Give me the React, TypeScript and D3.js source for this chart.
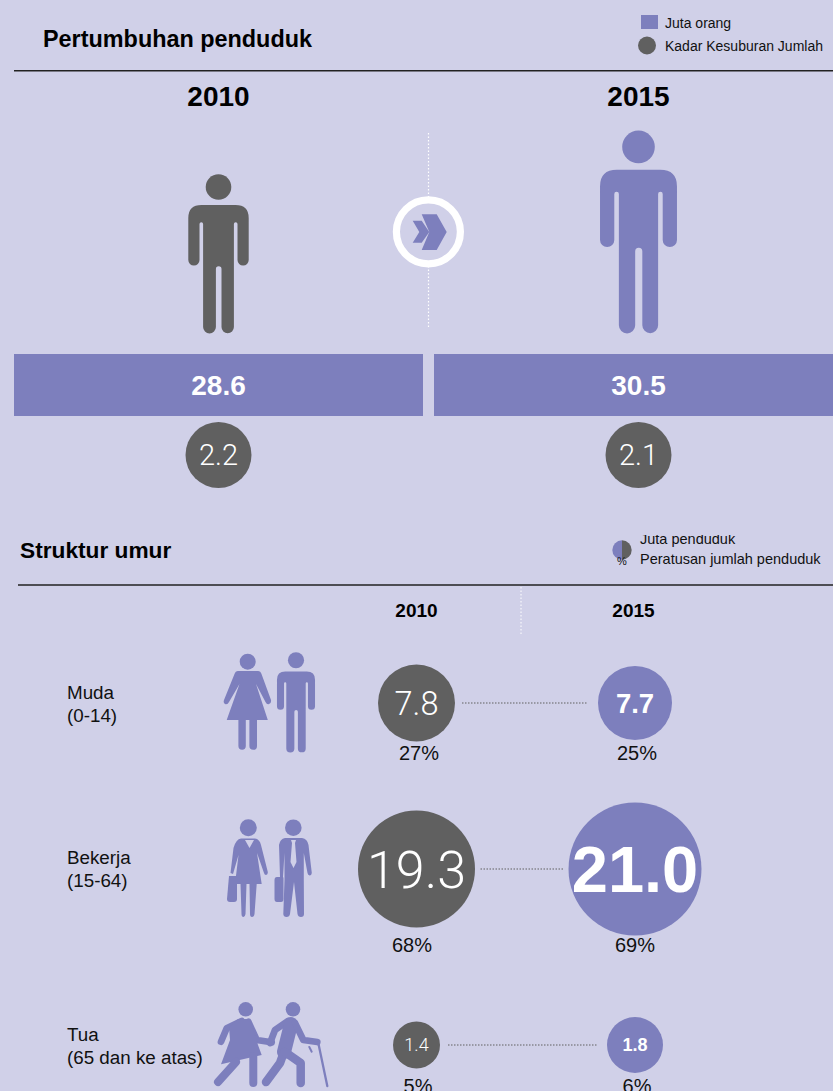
import React from 'react';
import * as d3 from 'd3';

const W = 833;
const H = 1091;
const BG = '#d0d0e8';
const PURPLE = '#7d7fbd';
const GREY = '#606060';
const FONT = '"Liberation Sans", Arial, sans-serif';
const LIGHT = 'Roboto, "Liberation Sans", sans-serif';

const years = ['2010', '2015'];
const population = [28.6, 30.5];
const fertility = [2.2, 2.1];

const ageGroups = ['Muda', 'Bekerja', 'Tua'];
const ageRanges = ['(0-14)', '(15-64)', '(65 dan ke atas)'];
const ageMillions2010 = [7.8, 19.3, 1.4];
const ageMillions2015 = [7.7, 21.0, 1.8];
const agePercent2010 = [27, 68, 5];
const agePercent2015 = [25, 69, 6];

// top panel columns, the second bar runs off the page
const yearBand = d3.scaleBand().domain(years).range([14, 843]).paddingInner(11 / 420).paddingOuter(0);
const figureScale = d3.scaleLinear().domain([28.6, 30.5]).range([1, 1.274]);

// lower panel
const ageX = d3.scaleOrdinal<string, number>().domain(years).range([416.5, 635]);
const ageY = d3.scaleOrdinal<string, number>().domain(ageGroups).range([703, 869, 1045]);
// bubble sizes in the source are not strictly proportional
const ageRadius = d3.scaleLinear().domain([1.4, 1.8, 7.7, 7.8, 19.3, 21]).range([23.5, 28, 37, 38.5, 58.5, 66.5]);
const ageFont = d3.scaleLinear().domain([1.4, 1.8, 7.7, 7.8, 19.3, 21]).range([18, 18, 27.5, 32.5, 52, 65]);

const MAN =
  'M-17 31H17Q30.2 31 30.2 44V86A5.6 5.6 0 0 1 19 86V50A1.8 1.8 0 0 0 15.4 50V153A6.2 6.2 0 0 1 3 153V95A2.6 2.6 0 0 0 -2.6 95V153A6.2 6.2 0 0 1 -15.4 153V50A1.8 1.8 0 0 0 -19 50V86A5.6 5.6 0 0 1 -30.2 86V44Q-30.2 31 -17 31Z';

function Man({ x, y, k, fill }: { x: number; y: number; k: number; fill: string }) {
  return (
    <g transform={`translate(${x},${y}) scale(${k})`} fill={fill}>
      <circle cx={0} cy={13} r={12.8} />
      <path d={MAN} />
    </g>
  );
}

function YoungIcons() {
  return (
    <g fill={PURPLE}>
      <circle cx={247.7} cy={661.7} r={8} />
      <path d="M238 671H258Q260.5 671 261.5 674L271 700Q271.5 703 269 704Q267 705 265.5 702L256 684L267.8 720H257V746A3.7 3.7 0 0 1 249.4 746V720H245.8V746A3.7 3.7 0 0 1 238.4 746V720H226.7L239.5 684L229 702Q227.5 705 225 704Q223 703 224 700L234.5 674Q235.5 671 238 671Z" />
      <Man x={296} y={652} k={0.63} fill={PURPLE} />
    </g>
  );
}

function WorkerIcons() {
  return (
    <g fill={PURPLE}>
      <circle cx={248.3} cy={827.7} r={8.5} />
      <path d="M241 838.5H255Q259.5 839 261 845L267.8 872Q268 874.5 266 875Q264.5 875 264 873L257 853L261.7 884H256.7L254.5 914Q254 917 252 917Q250 917 250 914L249.5 884H246.5L245.5 914Q245 917 243.5 917Q241.5 917 241.5 914L240.5 884H235L238.5 855L233 874L230.5 873L233.5 848Q236 839 241 838.5Z" />
      <path d="M229 876H236Q237 876 237 878V899Q237 902 234 902H230Q227 902 227 899Z" />
      <path d="M245 840H254L249.5 848Z" fill={BG} />

      <circle cx={293.3} cy={827.7} r={8.3} />
      <path d="M285 838H302Q307.5 839 308.5 845L311.8 873Q311.5 875.5 309.5 875.5Q308 875 307.5 873L303.8 853V880L304 914Q304 917 301 917Q298 917 297.5 914L294 882L290 914Q289.5 917 286.5 917Q283.5 917 283.3 914L284.5 880V853L283 877H280L279 845Q280 839 285 838Z" />
      <path d="M277 877H283Q283.5 877 283.5 879V899Q283.5 902 281 902H277Q274.5 902 274.5 899V880Q274.5 877 277 877Z" />
      <path d="M291 840H296L295 843L296.5 862L293.5 868L290.5 862L292 843Z" fill={BG} />
    </g>
  );
}

function ElderlyIcons() {
  return (
    <g fill={PURPLE} stroke={PURPLE} strokeLinecap="round" strokeLinejoin="round">
      <circle cx={245.7} cy={1009.3} r={7.3} stroke="none" />
      <path d="M241.7 1021L226.7 1028.3L221 1041.7" fill="none" strokeWidth={6.7} />
      <path d="M248.3 1021.7L256.7 1040L271.7 1042.3" fill="none" strokeWidth={6.7} />
      <path d="M238 1019H250L258 1045L261.7 1055L221 1064.3L230 1040L229 1027Z" stroke="none" />
      <path d="M236 1062L218 1082" fill="none" strokeWidth={8} />
      <path d="M253.3 1056V1083" fill="none" strokeWidth={8} />

      <circle cx={293} cy={1009.3} r={7.3} stroke="none" />
      <path d="M288 1021L275 1030L270 1043" fill="none" strokeWidth={6.7} />
      <path d="M291 1024L284 1052" fill="none" strokeWidth={14} />
      <path d="M284 1052L280 1063L266 1082" fill="none" strokeWidth={8.5} />
      <path d="M285 1052L300.7 1063V1083" fill="none" strokeWidth={8.5} />
      <path d="M295 1023L303.3 1040L317.3 1042" fill="none" strokeWidth={6.7} />
      <path d="M318.3 1043L327.3 1086" fill="none" strokeWidth={2.3} />
      <path d="M309.3 1047L311.7 1051.7" fill="none" strokeWidth={2} />
    </g>
  );
}

export default function App() {
  return (
    <svg
      width={W}
      height={H}
      viewBox={`0 0 ${W} ${H}`}
      fontFamily={FONT}
      style={{ position: 'absolute', left: 0, top: 0, display: 'block' }}
    >
      <defs>
        <clipPath id="legendClip">
          <rect x={600} y={535} width={233} height={40} />
        </clipPath>
      </defs>
      <rect width={W} height={H} fill={BG} />

      {/* Pertumbuhan penduduk */}
      <text x={43} y={47} fontSize={23.4} fontWeight="bold" fill="#000">Pertumbuhan penduduk</text>
      <rect x={641} y={15} width={17} height={14} fill={PURPLE} />
      <text x={665} y={28} fontSize={14} fill="#111">Juta orang</text>
      <circle cx={647} cy={45.5} r={9} fill={GREY} />
      <text x={665} y={51} fontSize={14} fill="#111">Kadar Kesuburan Jumlah</text>
      <line x1={14} x2={W} y1={70.8} y2={70.8} stroke="#222" strokeWidth={1.5} />

      <line x1={428.5} x2={428.5} y1={133} y2={329} stroke="#fff" strokeWidth={1.2} strokeDasharray="1.5 2" />
      <circle cx={428.4} cy={231.8} r={32} fill={BG} stroke="#fff" strokeWidth={7.2} />
      <path d="M421.7 214.3H436.7L446.7 232L436.7 250H421.7L429.3 232Z" fill={PURPLE} />
      <path d="M412.7 220.7H421.7L429.3 232L421.7 242.7H412.7L419.3 232Z" fill={PURPLE} />

      {years.map((year, i) => {
        const cx = (yearBand(year) as number) + yearBand.bandwidth() / 2;
        const k = figureScale(population[i]);
        return (
          <g key={year}>
            <text x={cx} y={106} fontSize={28} fontWeight="bold" textAnchor="middle" fill="#000">{year}</text>
            <Man x={cx} y={333.3 - 159.3 * k} k={k} fill={i === 0 ? GREY : PURPLE} />
            <rect x={yearBand(year)} y={354} width={yearBand.bandwidth()} height={62} fill={PURPLE} />
            <text x={cx} y={395} fontSize={28} fontWeight="bold" textAnchor="middle" fill="#fff">{population[i].toFixed(1)}</text>
            <circle cx={cx} cy={455} r={33} fill={GREY} />
            <text x={cx} y={465} fontSize={29} fontFamily={LIGHT} fontWeight={300} textAnchor="middle" fill="#fff">{fertility[i].toFixed(1)}</text>
          </g>
        );
      })}

      {/* Struktur umur */}
      <text x={20} y={558} fontSize={22.7} fontWeight="bold" fill="#000">Struktur umur</text>
      <g clipPath="url(#legendClip)">
        <text x={640} y={544} fontSize={14.5} fill="#111">Juta penduduk</text>
      </g>
      <path d="M622 540.3A9.7 9.7 0 0 0 622 559.7Z" fill={PURPLE} />
      <path d="M622 540.3A9.7 9.7 0 0 1 622 559.7Z" fill={GREY} />
      <text x={622} y={565} fontSize={11} textAnchor="middle" fill="#111">%</text>
      <text x={640} y={564} fontSize={14.5} fill="#111">Peratusan jumlah penduduk</text>
      <line x1={18} x2={W} y1={585} y2={585} stroke="#222" strokeWidth={1.4} />
      <line x1={521} x2={521} y1={587} y2={635} stroke="#fff" strokeWidth={1} strokeDasharray="1.5 2" />

      {years.map((year, i) => (
        <text key={year} x={[416.5, 633.5][i]} y={617} fontSize={19} fontWeight="bold" textAnchor="middle" fill="#000">{year}</text>
      ))}

      <YoungIcons />
      <WorkerIcons />
      <ElderlyIcons />

      {ageGroups.map((group, i) => {
        const y = ageY(group);
        const a = ageMillions2010[i];
        const b = ageMillions2015[i];
        const xa = ageX(years[0]);
        const xb = ageX(years[1]);
        const labelY = [699, 864, 1041][i];
        return (
          <g key={group}>
            <text x={67} y={labelY} fontSize={18.8} fill="#111">{group}</text>
            <text x={67} y={labelY + 23} fontSize={18.8} fill="#111">{ageRanges[i]}</text>
            <line
              x1={xa + ageRadius(a) + [7, 5.5, 8][i]}
              x2={xb - ageRadius(b) - [10, 5, 10][i]}
              y1={y}
              y2={y}
              stroke={GREY}
              strokeWidth={1}
              strokeDasharray="1.5 1.5"
            />
            <circle cx={xa} cy={y} r={ageRadius(a)} fill={GREY} />
            <text x={xa} y={y} dy="0.36em" fontSize={ageFont(a)} fontFamily={LIGHT} fontWeight={300} textAnchor="middle" fill="#fff">{a.toFixed(1)}</text>
            <circle cx={xb} cy={y} r={ageRadius(b)} fill={PURPLE} />
            <text x={xb} y={y} dy="0.36em" fontSize={ageFont(b)} fontWeight="bold" textAnchor="middle" fill="#fff">{b.toFixed(1)}</text>
          </g>
        );
      })}

      {ageGroups.map((group, i) => {
        const y = [760, 952, 1092.5][i];
        return (
          <g key={group} fontSize={20} textAnchor="middle" fill="#111">
            <text x={[419, 412, 418][i]} y={y}>{agePercent2010[i]}%</text>
            <text x={[637, 635, 637][i]} y={y}>{agePercent2015[i]}%</text>
          </g>
        );
      })}
    </svg>
  );
}
